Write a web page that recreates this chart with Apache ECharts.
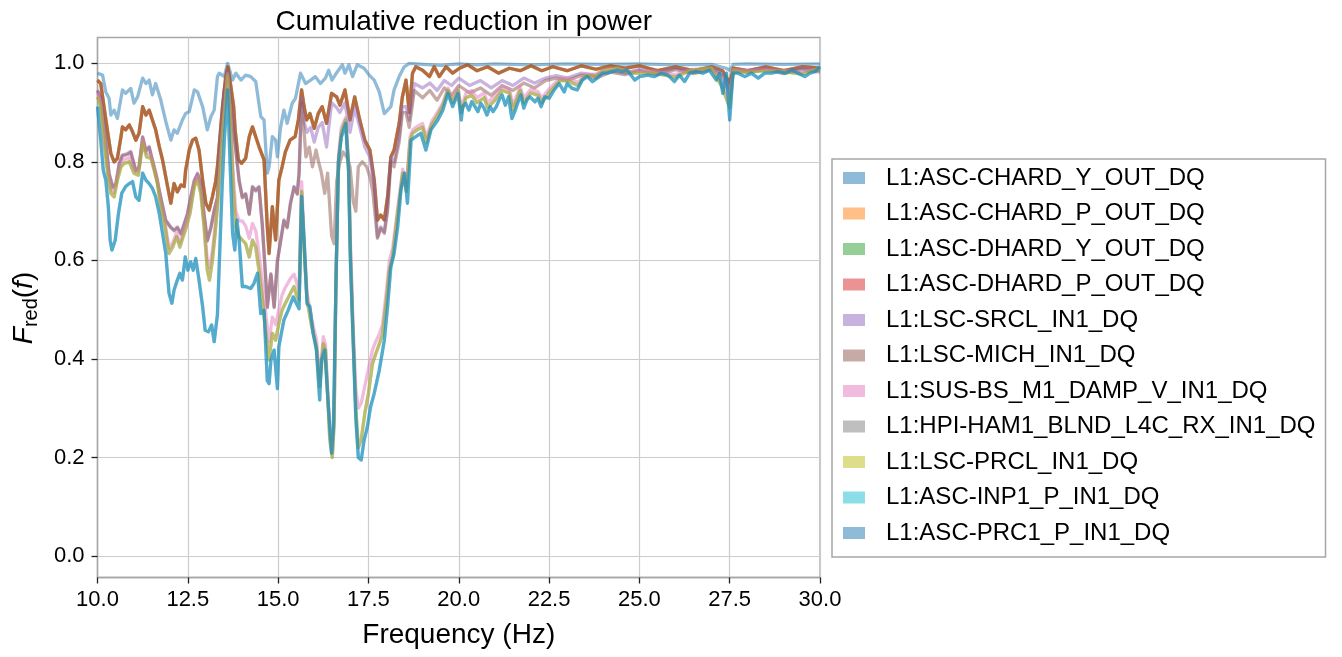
<!DOCTYPE html>
<html>
<head>
<meta charset="utf-8">
<script src="https://cdn.jsdelivr.net/npm/echarts@6/dist/echarts.min.js"></script>
<style>
html,body{margin:0;padding:0;background:#fff;}
#chart{width:1342px;height:657px;}
</style>
</head>
<body>
<div id="chart"></div>
<script>
// ---------- data (frequency in Hz, F_red) ----------
const channelNames = [
  'L1:ASC-CHARD_Y_OUT_DQ','L1:ASC-CHARD_P_OUT_DQ','L1:ASC-DHARD_Y_OUT_DQ','L1:ASC-DHARD_P_OUT_DQ',
  'L1:LSC-SRCL_IN1_DQ','L1:LSC-MICH_IN1_DQ','L1:SUS-BS_M1_DAMP_V_IN1_DQ','L1:HPI-HAM1_BLND_L4C_RX_IN1_DQ',
  'L1:LSC-PRCL_IN1_DQ','L1:ASC-INP1_P_IN1_DQ','L1:ASC-PRC1_P_IN1_DQ'
];
const xTicks = [10, 12.5, 15, 17.5, 20, 22.5, 25, 27.5, 30];
const yTicks = [0, 0.2, 0.4, 0.6, 0.8, 1.0];

const chardY = [[10.0,0.98],[10.14,0.976],[10.23,0.942],[10.32,0.929],[10.37,0.895],[10.46,0.905],[10.55,0.888],[10.69,0.946],[10.78,0.939],[10.92,0.949],[11.01,0.919],[11.11,0.932],[11.25,0.97],[11.34,0.959],[11.43,0.966],[11.52,0.936],[11.61,0.959],[11.75,0.926],[11.89,0.882],[12.03,0.844],[12.12,0.865],[12.21,0.858],[12.35,0.885],[12.44,0.898],[12.54,0.902],[12.68,0.946],[12.77,0.942],[12.91,0.912],[13.04,0.865],[13.14,0.892],[13.23,0.905],[13.32,0.973],[13.37,0.98],[13.51,0.973],[13.6,1.0],[13.74,0.966],[13.83,0.98],[13.97,0.966],[14.1,0.976],[14.24,0.973],[14.38,0.963],[14.52,0.892],[14.61,0.885],[14.7,0.777],[14.75,0.79],[14.84,0.851],[14.93,0.844],[14.98,0.81],[15.07,0.871],[15.16,0.905],[15.25,0.878],[15.39,0.919],[15.48,0.929],[15.62,0.98],[15.76,0.959],[15.9,0.966],[16.03,0.973],[16.17,0.959],[16.31,0.97],[16.4,0.986],[16.49,0.966],[16.64,0.983],[16.78,0.997],[16.85,0.98],[16.96,0.997],[17.06,0.973],[17.19,0.997],[17.38,0.99],[17.52,0.976],[17.66,0.966],[17.8,0.942],[17.94,0.898],[18.03,0.905],[18.12,0.912],[18.21,0.946],[18.35,0.973],[18.49,0.993],[18.63,1.0],[19.0,0.998],[19.5,0.996],[20.0,0.999],[20.5,0.997],[21.0,0.999],[22.0,0.997],[23.0,0.999],[24.0,0.998],[25.0,0.999],[26.0,0.997],[27.0,0.998],[27.4,0.99],[27.5,0.986],[27.6,0.998],[28.0,0.999],[29.0,0.998],[30.0,0.999]];

const hardGroup = [[10.0,0.966],[10.09,0.959],[10.18,0.912],[10.28,0.861],[10.37,0.817],[10.46,0.8],[10.55,0.807],[10.65,0.851],[10.69,0.871],[10.78,0.865],[10.88,0.875],[10.97,0.861],[11.06,0.844],[11.15,0.858],[11.25,0.912],[11.34,0.895],[11.43,0.905],[11.52,0.885],[11.61,0.865],[11.71,0.831],[11.8,0.804],[11.94,0.75],[12.03,0.716],[12.12,0.756],[12.21,0.739],[12.31,0.753],[12.4,0.75],[12.44,0.783],[12.54,0.824],[12.63,0.844],[12.72,0.848],[12.81,0.824],[12.91,0.763],[13.0,0.716],[13.09,0.702],[13.18,0.729],[13.27,0.76],[13.32,0.79],[13.46,0.912],[13.55,0.973],[13.61,0.993],[13.68,0.959],[13.77,0.912],[13.81,0.865],[13.9,0.804],[13.99,0.797],[14.1,0.807],[14.2,0.851],[14.29,0.871],[14.38,0.851],[14.47,0.831],[14.61,0.804],[14.7,0.668],[14.75,0.614],[14.84,0.709],[14.93,0.641],[15.02,0.763],[15.11,0.79],[15.2,0.82],[15.33,0.844],[15.47,0.851],[15.56,0.885],[15.65,0.946],[15.72,0.912],[15.79,0.885],[15.88,0.898],[16.0,0.868],[16.11,0.898],[16.22,0.912],[16.34,0.878],[16.48,0.939],[16.62,0.932],[16.71,0.915],[16.85,0.946],[16.99,0.885],[17.12,0.932],[17.26,0.885],[17.4,0.844],[17.54,0.824],[17.66,0.763],[17.75,0.682],[17.84,0.692],[17.94,0.682],[18.03,0.729],[18.12,0.81],[18.21,0.824],[18.35,0.878],[18.44,0.932],[18.54,0.966],[18.63,0.9],[18.72,0.98],[18.81,0.993],[19.0,0.986],[19.19,0.973],[19.32,0.993],[19.46,0.973],[19.65,0.993],[19.83,0.98],[20.02,0.99],[20.25,0.997],[20.5,0.985],[20.8,0.993],[21.1,0.98],[21.4,0.99],[21.7,0.985],[22.0,0.995],[22.3,0.985],[22.6,0.993],[23.0,0.985],[23.4,0.995],[23.8,0.988],[24.2,0.995],[24.6,0.99],[25.0,0.995],[25.5,0.985],[26.0,0.993],[26.5,0.985],[27.0,0.993],[27.3,0.985],[27.5,0.96],[27.6,0.99],[28.0,0.985],[28.5,0.993],[29.0,0.985],[29.5,0.993],[30.0,0.99]];

const srcl = [[10.0,0.946],[10.09,0.932],[10.23,0.844],[10.32,0.777],[10.42,0.75],[10.51,0.756],[10.6,0.797],[10.69,0.814],[10.83,0.817],[10.92,0.821],[11.06,0.783],[11.15,0.79],[11.25,0.851],[11.34,0.824],[11.43,0.831],[11.52,0.804],[11.61,0.777],[11.75,0.729],[11.89,0.682],[12.03,0.668],[12.12,0.662],[12.21,0.668],[12.31,0.655],[12.4,0.675],[12.49,0.695],[12.58,0.729],[12.68,0.763],[12.77,0.777],[12.86,0.756],[12.95,0.695],[13.04,0.641],[13.14,0.668],[13.23,0.702],[13.32,0.729],[13.37,0.824],[13.51,0.946],[13.61,0.986],[13.74,0.878],[13.83,0.824],[13.92,0.763],[14.01,0.729],[14.1,0.736],[14.2,0.695],[14.29,0.75],[14.38,0.743],[14.47,0.75],[14.56,0.675],[14.66,0.56],[14.7,0.506],[14.8,0.573],[14.89,0.506],[14.98,0.6],[15.07,0.641],[15.16,0.682],[15.25,0.668],[15.34,0.716],[15.44,0.75],[15.53,0.736],[15.58,0.78],[15.65,0.93],[15.72,0.88],[15.8,0.86],[15.9,0.87],[16.0,0.84],[16.11,0.87],[16.22,0.88],[16.34,0.83],[16.48,0.92],[16.62,0.91],[16.71,0.9],[16.85,0.92],[16.99,0.86],[17.12,0.91],[17.26,0.87],[17.4,0.83],[17.54,0.81],[17.66,0.75],[17.75,0.648],[17.84,0.668],[17.94,0.658],[18.03,0.709],[18.12,0.807],[18.21,0.8],[18.35,0.851],[18.44,0.912],[18.54,0.912],[18.63,0.885],[18.77,0.959],[19.0,0.95],[19.2,0.96],[19.4,0.945],[19.6,0.965],[19.8,0.955],[20.0,0.97],[20.3,0.955],[20.6,0.965],[20.9,0.95],[21.2,0.965],[21.5,0.955],[21.8,0.97],[22.1,0.96],[22.4,0.97],[22.7,0.975],[23.0,0.97],[23.4,0.98],[23.8,0.975],[24.2,0.985],[24.6,0.98],[25.0,0.988],[25.5,0.98],[26.0,0.99],[26.5,0.982],[27.0,0.99],[27.3,0.98],[27.5,0.95],[27.6,0.985],[28.0,0.985],[28.5,0.99],[29.0,0.982],[29.5,0.99],[30.0,0.985]];

const mich = [[10.0,0.944],[10.09,0.93],[10.23,0.842],[10.32,0.775],[10.42,0.748],[10.51,0.754],[10.6,0.795],[10.69,0.812],[10.83,0.815],[10.92,0.819],[11.06,0.781],[11.15,0.788],[11.25,0.849],[11.34,0.822],[11.43,0.829],[11.52,0.802],[11.61,0.775],[11.75,0.727],[11.89,0.68],[12.03,0.666],[12.12,0.66],[12.21,0.666],[12.31,0.653],[12.4,0.673],[12.49,0.693],[12.58,0.727],[12.68,0.761],[12.77,0.775],[12.86,0.754],[12.95,0.693],[13.04,0.639],[13.14,0.666],[13.23,0.7],[13.32,0.727],[13.37,0.82],[13.51,0.944],[13.61,0.984],[13.74,0.876],[13.83,0.822],[13.92,0.761],[14.01,0.727],[14.1,0.734],[14.2,0.693],[14.29,0.748],[14.38,0.741],[14.47,0.748],[14.56,0.673],[14.66,0.558],[14.7,0.504],[14.8,0.571],[14.89,0.504],[14.98,0.598],[15.07,0.639],[15.16,0.68],[15.25,0.666],[15.34,0.714],[15.44,0.748],[15.53,0.734],[15.58,0.775],[15.65,0.92],[15.72,0.86],[15.77,0.81],[15.86,0.83],[15.95,0.79],[16.05,0.824],[16.12,0.8],[16.2,0.777],[16.29,0.736],[16.37,0.777],[16.48,0.65],[16.55,0.634],[16.62,0.76],[16.71,0.8],[16.8,0.82],[16.9,0.81],[16.99,0.79],[17.08,0.72],[17.15,0.7],[17.22,0.79],[17.33,0.8],[17.45,0.79],[17.54,0.77],[17.62,0.74],[17.75,0.645],[17.84,0.665],[17.94,0.655],[18.03,0.7],[18.12,0.8],[18.21,0.79],[18.35,0.84],[18.44,0.9],[18.54,0.9],[18.63,0.87],[18.77,0.945],[19.0,0.93],[19.2,0.945],[19.4,0.925],[19.6,0.95],[19.8,0.935],[20.0,0.955],[20.3,0.94],[20.6,0.95],[20.9,0.935],[21.2,0.955],[21.5,0.945],[21.8,0.96],[22.1,0.95],[22.4,0.965],[22.7,0.97],[23.0,0.965],[23.4,0.976],[23.8,0.97],[24.2,0.982],[24.6,0.977],[25.0,0.985],[25.5,0.977],[26.0,0.987],[26.5,0.979],[27.0,0.987],[27.3,0.975],[27.5,0.94],[27.6,0.982],[28.0,0.982],[28.5,0.987],[29.0,0.979],[29.5,0.987],[30.0,0.982]];

const susBs = [[10.0,0.94],[10.09,0.92],[10.18,0.85],[10.28,0.785],[10.37,0.745],[10.46,0.738],[10.55,0.772],[10.65,0.798],[10.74,0.805],[10.88,0.808],[11.01,0.785],[11.13,0.78],[11.25,0.844],[11.36,0.817],[11.48,0.814],[11.57,0.79],[11.66,0.764],[11.75,0.717],[11.87,0.676],[11.98,0.625],[12.08,0.636],[12.19,0.656],[12.28,0.636],[12.37,0.656],[12.46,0.676],[12.56,0.703],[12.68,0.756],[12.77,0.77],[12.86,0.744],[12.95,0.68],[13.04,0.6],[13.1,0.585],[13.18,0.62],[13.25,0.665],[13.32,0.72],[13.45,0.86],[13.6,0.98],[13.68,0.89],[13.76,0.77],[13.83,0.7],[13.92,0.68],[14.01,0.68],[14.1,0.67],[14.2,0.645],[14.29,0.675],[14.38,0.66],[14.47,0.615],[14.56,0.56],[14.66,0.49],[14.75,0.435],[14.84,0.485],[14.93,0.47],[15.02,0.5],[15.11,0.53],[15.2,0.545],[15.34,0.563],[15.44,0.572],[15.53,0.55],[15.58,0.54],[15.65,0.76],[15.72,0.64],[15.8,0.535],[15.93,0.48],[16.06,0.44],[16.15,0.36],[16.25,0.445],[16.31,0.43],[16.43,0.25],[16.5,0.21],[16.55,0.28],[16.6,0.56],[16.67,0.81],[16.75,0.87],[16.87,0.89],[16.95,0.8],[17.0,0.64],[17.07,0.48],[17.15,0.34],[17.22,0.3],[17.3,0.31],[17.4,0.345],[17.5,0.38],[17.61,0.418],[17.7,0.435],[17.8,0.45],[17.89,0.47],[18.0,0.54],[18.08,0.6],[18.17,0.625],[18.3,0.7],[18.45,0.785],[18.55,0.75],[18.65,0.85],[18.72,0.865],[18.85,0.872],[19.0,0.878],[19.1,0.85],[19.25,0.882],[19.42,0.902],[19.56,0.92],[19.7,0.95],[19.83,0.928],[19.98,0.95],[20.07,0.91],[20.2,0.94],[20.36,0.945],[20.5,0.93],[20.7,0.94],[20.8,0.92],[21.0,0.935],[21.2,0.952],[21.4,0.948],[21.5,0.915],[21.7,0.952],[21.8,0.93],[22.0,0.948],[22.2,0.942],[22.3,0.93],[22.5,0.948],[22.8,0.97],[23.0,0.97],[23.3,0.962],[23.5,0.978],[23.8,0.978],[24.0,0.987],[24.4,0.99],[24.8,0.983],[25.0,0.983],[25.4,0.984],[26.0,0.977],[26.4,0.987],[27.0,0.99],[27.3,0.96],[27.5,0.93],[27.6,0.987],[28.0,0.985],[28.5,0.987],[29.0,0.985],[29.5,0.982],[30.0,0.99]];

const prcl = [[10.0,0.932],[10.09,0.912],[10.18,0.844],[10.28,0.777],[10.37,0.736],[10.46,0.729],[10.55,0.763],[10.65,0.79],[10.74,0.797],[10.88,0.8],[11.01,0.777],[11.13,0.773],[11.25,0.838],[11.36,0.81],[11.48,0.807],[11.57,0.783],[11.66,0.756],[11.75,0.709],[11.87,0.668],[11.98,0.614],[12.08,0.627],[12.19,0.648],[12.28,0.627],[12.37,0.648],[12.46,0.668],[12.56,0.695],[12.68,0.75],[12.77,0.763],[12.86,0.736],[12.95,0.668],[13.04,0.58],[13.1,0.56],[13.18,0.6],[13.25,0.65],[13.32,0.709],[13.45,0.85],[13.6,0.975],[13.68,0.878],[13.76,0.743],[13.83,0.668],[13.92,0.648],[14.01,0.641],[14.1,0.634],[14.2,0.607],[14.29,0.641],[14.38,0.627],[14.47,0.58],[14.56,0.526],[14.66,0.452],[14.75,0.398],[14.84,0.452],[14.93,0.438],[15.02,0.472],[15.11,0.499],[15.2,0.513],[15.34,0.533],[15.44,0.547],[15.53,0.525],[15.58,0.52],[15.65,0.74],[15.72,0.62],[15.8,0.52],[15.93,0.465],[16.06,0.425],[16.15,0.344],[16.25,0.431],[16.31,0.418],[16.43,0.236],[16.5,0.2],[16.55,0.27],[16.6,0.55],[16.67,0.8],[16.75,0.86],[16.87,0.885],[16.95,0.79],[17.0,0.62],[17.07,0.46],[17.15,0.3],[17.22,0.22],[17.3,0.236],[17.4,0.29],[17.5,0.33],[17.61,0.39],[17.7,0.41],[17.8,0.43],[17.89,0.45],[18.0,0.52],[18.08,0.58],[18.17,0.607],[18.3,0.69],[18.45,0.777],[18.55,0.74],[18.65,0.84],[18.72,0.858],[18.85,0.865],[19.0,0.87],[19.1,0.84],[19.25,0.875],[19.42,0.895],[19.56,0.915],[19.7,0.945],[19.83,0.92],[19.98,0.945],[20.07,0.9],[20.2,0.93],[20.36,0.935],[20.5,0.92],[20.7,0.93],[20.8,0.91],[21.0,0.925],[21.2,0.945],[21.4,0.94],[21.5,0.905],[21.7,0.945],[21.8,0.92],[22.0,0.94],[22.2,0.935],[22.3,0.92],[22.5,0.94],[22.8,0.965],[23.0,0.965],[23.3,0.955],[23.5,0.975],[23.8,0.975],[24.0,0.985],[24.4,0.99],[24.8,0.98],[25.0,0.98],[25.4,0.98],[26.0,0.972],[26.4,0.985],[27.0,0.99],[27.3,0.95],[27.5,0.91],[27.6,0.985],[28.0,0.982],[28.5,0.985],[29.0,0.983],[29.5,0.978],[30.0,0.99]];

const prc1 = [[10.0,0.912],[10.09,0.844],[10.16,0.783],[10.23,0.763],[10.3,0.709],[10.35,0.641],[10.4,0.621],[10.49,0.641],[10.58,0.695],[10.67,0.736],[10.78,0.75],[10.88,0.756],[10.97,0.76],[11.06,0.729],[11.15,0.722],[11.25,0.777],[11.34,0.763],[11.43,0.756],[11.52,0.746],[11.61,0.729],[11.71,0.695],[11.8,0.655],[11.89,0.614],[11.98,0.533],[12.06,0.513],[12.12,0.54],[12.21,0.56],[12.28,0.574],[12.35,0.56],[12.43,0.607],[12.5,0.58],[12.58,0.597],[12.65,0.58],[12.72,0.604],[12.81,0.56],[12.91,0.506],[12.98,0.458],[13.07,0.455],[13.16,0.469],[13.23,0.435],[13.32,0.49],[13.45,0.75],[13.51,0.844],[13.6,0.946],[13.68,0.777],[13.74,0.655],[13.8,0.621],[13.86,0.682],[13.92,0.641],[14.01,0.547],[14.1,0.547],[14.24,0.543],[14.33,0.553],[14.43,0.574],[14.52,0.492],[14.61,0.499],[14.7,0.356],[14.75,0.35],[14.8,0.397],[14.89,0.418],[14.98,0.34],[15.02,0.425],[15.16,0.479],[15.28,0.499],[15.42,0.526],[15.51,0.512],[15.58,0.502],[15.65,0.73],[15.72,0.64],[15.8,0.512],[15.88,0.506],[15.97,0.452],[16.06,0.418],[16.15,0.317],[16.2,0.398],[16.29,0.418],[16.38,0.317],[16.48,0.209],[16.53,0.26],[16.6,0.55],[16.67,0.8],[16.75,0.85],[16.87,0.878],[16.95,0.78],[17.0,0.6],[17.07,0.45],[17.15,0.28],[17.22,0.2],[17.3,0.195],[17.38,0.235],[17.47,0.262],[17.56,0.303],[17.66,0.33],[17.8,0.377],[17.94,0.438],[18.03,0.506],[18.12,0.587],[18.21,0.614],[18.31,0.668],[18.4,0.743],[18.5,0.777],[18.58,0.716],[18.68,0.844],[18.81,0.851],[18.95,0.858],[19.09,0.824],[19.23,0.865],[19.42,0.885],[19.56,0.905],[19.7,0.939],[19.83,0.912],[19.98,0.939],[20.07,0.885],[20.11,0.912],[20.19,0.919],[20.28,0.905],[20.36,0.922],[20.45,0.912],[20.53,0.902],[20.61,0.919],[20.7,0.909],[20.78,0.895],[20.87,0.912],[20.95,0.902],[21.04,0.912],[21.12,0.926],[21.2,0.936],[21.29,0.915],[21.38,0.932],[21.47,0.888],[21.55,0.902],[21.63,0.919],[21.72,0.936],[21.8,0.909],[21.89,0.926],[21.97,0.932],[22.11,0.922],[22.19,0.929],[22.28,0.912],[22.38,0.932],[22.5,0.929],[22.64,0.946],[22.78,0.959],[22.92,0.942],[23.0,0.959],[23.14,0.949],[23.28,0.946],[23.42,0.966],[23.56,0.973],[23.7,0.963],[23.83,0.97],[23.98,0.98],[24.1,0.98],[24.25,0.983],[24.39,0.986],[24.53,0.983],[24.66,0.986],[24.8,0.973],[24.87,0.966],[25.0,0.973],[25.23,0.976],[25.42,0.973],[25.6,0.98],[25.79,0.976],[25.97,0.963],[26.11,0.976],[26.25,0.963],[26.39,0.98],[26.57,0.983],[26.76,0.98],[26.94,0.986],[27.13,0.966],[27.22,0.98],[27.31,0.939],[27.41,0.98],[27.5,0.885],[27.59,0.98],[27.73,0.98],[27.92,0.973],[28.1,0.98],[28.29,0.97],[28.47,0.98],[28.66,0.98],[28.84,0.983],[29.03,0.98],[29.21,0.986],[29.4,0.98],[29.58,0.973],[29.72,0.98],[29.86,0.983],[30.0,0.993]];

// which array each channel draws from (curves that coincide share one array)
const seriesData = [chardY, hardGroup, hardGroup, hardGroup, srcl, mich, susBs, prcl, prcl, prc1, prc1];
const lineColors = ['#1f77b4','#ff7f0e','#2ca02c','#d62728','#9467bd','#8c564b','#e377c2','#7f7f7f','#bcbd22','#17becf','#1f77b4'];
const legendColors = ['#8fbbd9','#ffbf86','#95cf95','#eb9393','#c9b3de','#c5aaa5','#f1bbde','#bfbfbf','#dddd8a','#8bdee7','#8fbbd9'];

// ---------- chart ----------
const FONT = 'Liberation Sans, Arial, Helvetica, sans-serif';
const chart = echarts.init(document.getElementById('chart'), null, {renderer: 'canvas'});

const series = channelNames.map((name, i) => ({
  name: name,
  type: 'line',
  data: seriesData[i],
  showSymbol: false,
  symbol: 'none',
  silent: true,
  animation: false,
  color: lineColors[i],
  lineStyle: {width: 3.3, color: lineColors[i], opacity: 0.5, join: 'round', cap: 'butt'},
  clip: true
}));

const option = {
  animation: false,
  backgroundColor: '#ffffff',
  textStyle: {fontFamily: FONT},
  title: {
    text: 'Cumulative reduction in power',
    left: 458.75,
    textAlign: 'center',
    top: 3,
    textStyle: {fontFamily: FONT, fontSize: 28, fontWeight: 'normal', color: '#000'}
  },
  grid: {
    left: 97.5, right: 522, top: 37.5, bottom: 79.5,
    containLabel: false, outerBoundsMode: 'none',
    show: true, borderColor: '#a6a6a6', borderWidth: 1.3, backgroundColor: 'transparent'
  },
  legend: {
    orient: 'vertical',
    left: 832, top: 159,
    padding: [7, 10, 12, 11],
    itemGap: 11.5,
    itemWidth: 22, itemHeight: 12,
    icon: 'rect',
    backgroundColor: '#ffffff',
    borderColor: '#a6a6a6', borderWidth: 1.5, borderRadius: 0,
    selectedMode: false,
    textStyle: {fontFamily: FONT, fontSize: 24, color: '#000', lineHeight: 24, padding: [0, 0, 0, 16]},
    data: channelNames.map((n, i) => ({name: n, icon: 'rect', itemStyle: {color: legendColors[i], opacity: 1, borderWidth: 0}}))
  },
  xAxis: {
    type: 'value',
    min: 10, max: 30, interval: 2.5,
    name: 'Frequency (Hz)',
    nameLocation: 'middle', nameGap: 44,
    nameTextStyle: {fontFamily: FONT, fontSize: 28, color: '#000'},
    axisLine: {show: true, onZero: false, lineStyle: {color: '#a6a6a6', width: 1.3}},
    axisTick: {show: true, inside: false, length: 6, lineStyle: {color: '#222', width: 1.3}},
    axisLabel: {fontFamily: FONT, fontSize: 22, color: '#000', margin: 11,
      formatter: v => xTicks.indexOf(v) >= 0 ? v.toFixed(1) : ''},
    splitLine: {show: true, lineStyle: {color: '#cccccc', width: 1.2}}
  },
  yAxis: {
    type: 'value',
    min: -0.0436, max: 1.0524,
    splitNumber: 5, minInterval: 0.2, maxInterval: 0.2,
    axisLine: {show: true, onZero: false, lineStyle: {color: '#a6a6a6', width: 1.3}},
    axisTick: {show: true, inside: false, length: 6, customValues: yTicks, lineStyle: {color: '#222', width: 1.3}},
    axisLabel: {fontFamily: FONT, fontSize: 22, color: '#000', margin: 13, customValues: yTicks,
      formatter: v => {
        const hit = yTicks.find(t => Math.abs(t - v) < 1e-6);
        return hit === undefined ? '' : hit.toFixed(1);
      }},
    splitLine: {show: true, lineStyle: {color: '#cccccc', width: 1.2}}
  },
  graphic: [{
    type: 'text',
    x: 24, y: 308,
    rotation: Math.PI / 2,
    style: {
      text: '{i|F}{s|red}{n|(}{i|f}{n|)}',
      textAlign: 'center',
      textVerticalAlign: 'middle',
      fill: '#000',
      rich: {
        i: {fontFamily: FONT, fontSize: 28, fontStyle: 'italic', lineHeight: 34, fill: '#000'},
        n: {fontFamily: FONT, fontSize: 28, lineHeight: 34, fill: '#000'},
        s: {fontFamily: FONT, fontSize: 20, lineHeight: 20, verticalAlign: 'bottom', fill: '#000'}
      }
    }
  }],
  series: series
};
chart.setOption(option);
</script>
</body>
</html>
